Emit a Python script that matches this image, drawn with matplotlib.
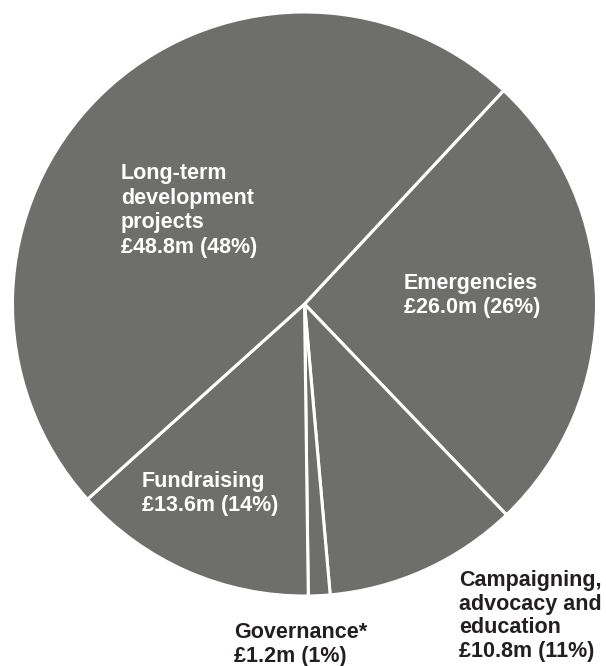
import matplotlib.pyplot as plt

# Expenditure breakdown, £m
categories = ["Emergencies", "Campaigning, advocacy and education",
              "Governance*", "Fundraising", "Long-term development projects"]
values = [26.0, 10.8, 1.2, 13.6, 48.8]
percents = [26, 11, 1, 14, 48]

label_lines = [
    ["Emergencies"],
    ["Campaigning,", "advocacy and", "education"],
    ["Governance*"],
    ["Fundraising"],
    ["Long-term", "development", "projects"],
]

W, H = 606, 666
fig = plt.figure(figsize=(W / 100, H / 100), dpi=100)
cx, cy, r = 304.5, 304, 292
ax = fig.add_axes([(cx - r) / W, 1 - (cy + r) / H, 2 * r / W, 2 * r / H])

ax.pie(values, startangle=47, counterclock=False, colors=["#6e6e6c"] * 5,
       wedgeprops=dict(edgecolor="white", linewidth=2.2))
ax.set_xlim(-1, 1)
ax.set_ylim(-1, 1)
ax.set_aspect("equal")
ax.axis("off")

# label anchor (top-left, pixels), text colour and line spacing
label_pos = [(404, 273, "white", 1.16), (459, 570, "#231f20", 1.16),
             (234, 622, "#231f20", 1.16), (142, 471, "white", 1.18),
             (121, 163, "white", 1.23)]

for lines, v, p, (x, y, col, ls) in zip(label_lines, values, percents, label_pos):
    txt = "\n".join(lines + [f"£{v:.1f}m ({p}%)"])
    fig.text(x / W, 1 - y / H, txt, ha="left", va="top", color=col,
             fontsize=15.5, fontweight="bold", family="Liberation Sans",
             linespacing=ls)

fig.savefig("out.png", dpi=100)
